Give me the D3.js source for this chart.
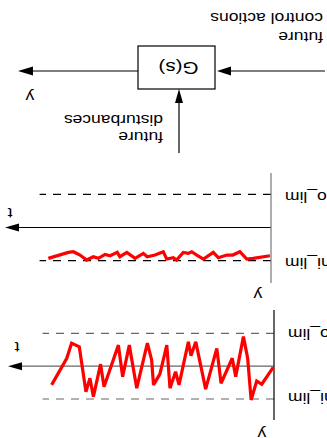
<!DOCTYPE html>
<html>
<head>
<meta charset="utf-8">
<script src="https://cdn.jsdelivr.net/npm/d3@7"></script>
<style>
  html, body { margin: 0; padding: 0; background: #fff; }
  svg { display: block; }
  text { font-family: "Liberation Sans", Arial, "DejaVu Sans", sans-serif; }
</style>
</head>
<body>
<script>
// ---------- data (upright orientation; the whole figure is shown rotated 180°) ----------
// top chart (wide swings between limits)
const topTime  = [0.3, 4.6, 6.5, 8.6, 9.9, 11.5, 14.4, 15.7, 19.9, 21.5, 25.7, 29.4, 31.2, 32.2, 35.7, 37.0, 39.1, 40.3, 42.9, 45.3, 46.0, 47.6, 51.6, 54.4, 56.9, 58.5, 63.9, 65.2, 67.9, 69.2, 70.7, 73.2, 76.1, 77.9, 83.6];
const topValue = [0.04, 0.55, 0.45, 1.03, -0.24, -0.90, 0.32, -0.24, 0.52, -0.54, 0.70, -0.74, -0.32, -0.74, 0.57, 0.17, 0.67, -0.64, 0.24, 0.57, -0.19, -0.70, 0.67, -0.64, 0.32, -0.64, 0.63, -0.06, 0.93, 0.37, 0.78, -0.59, -0.70, -0.24, 0.57];
// middle chart (hugging the upper limit)
const midTime  = [0.4, 6.7, 9.1, 11.7, 14.4, 16.6, 19.8, 21.7, 25.4, 27.9, 29.8, 31.1, 33.0, 35.5, 36.7, 39.2, 40.5, 43.6, 46.5, 48.0, 51.1, 54.2, 56.8, 57.8, 60.5, 62.4, 64.9, 66.8, 69.3, 71.8, 74.3, 76.2, 83.7];
const midValue = [0.85, 0.93, 0.95, 0.73, 0.83, 0.83, 0.91, 0.75, 0.95, 0.83, 0.73, 0.78, 0.75, 0.98, 0.91, 0.95, 0.73, 0.83, 0.88, 0.78, 0.93, 0.75, 0.88, 0.75, 0.85, 0.81, 0.93, 0.88, 0.98, 0.83, 0.73, 0.75, 0.93];
const limitValues = [1, -1];
const limitLabels = ["hi_lim", "lo_lim"];
const timeDomain = [0, 100];
const limitSpan = [0, 87];
const axisLabels = { t: "t", y: "y" };
const blockLabel = "G(s)";
const inputLabel = ["future", "control actions"];
const disturbanceLabel = ["future", "disturbances"];
const outputLabel = "y";

// ---------- drawing ----------
const W = 327, H = 438;
const FONT = '"Liberation Sans", Arial, "DejaVu Sans", sans-serif';
const svg = d3.select("body").append("svg").attr("width", W).attr("height", H);
const root = svg.append("g").attr("transform", `rotate(180 ${W / 2} ${H / 2})`);

function label(g, txt, x, y, anchor, size) {
  g.append("g").attr("transform", `translate(${x},${y}) scale(1.25,1)`)
    .append("text").attr("text-anchor", anchor)
    .attr("font-family", FONT)
    .style("font-size", size + "px").attr("fill", "#000").text(txt);
}
function arrowH(g, tipX, y, len, hw, dir) { // dir=+1 pointing right
  g.append("path").attr("d", `M${tipX},${y}L${tipX - dir * len},${y - hw}L${tipX - dir * len},${y + hw}Z`).attr("fill", "#000");
}

function drawChart(cfg) {
  const g = root.append("g");
  const x = d3.scaleLinear().domain(timeDomain).range(cfg.xRange);
  const y = d3.scaleLinear().domain([-1, 1]).range(cfg.yRange);
  // limits
  limitValues.forEach((v, i) => {
    g.append("line").attr("x1", x(limitSpan[0])).attr("x2", x(limitSpan[1]))
      .attr("y1", y(v)).attr("y2", y(v))
      .attr("stroke", cfg.dashColor).attr("stroke-width", 1.2).attr("stroke-dasharray", "8,7");
    label(g, limitLabels[i], cfg.limLabelX, cfg.limLabelY[i], "end", 14);
  });
  // time axis
  g.append("line").attr("x1", x(0)).attr("x2", x(100) - 12).attr("y1", y(0)).attr("y2", y(0))
    .attr("stroke", cfg.hAxisColor).attr("stroke-width", 1.2);
  arrowH(g, x(100), y(0), 14, 4, 1);
  // value axis
  g.append("line").attr("x1", x(0)).attr("x2", x(0)).attr("y1", cfg.vAxis[0]).attr("y2", cfg.vAxis[1])
    .attr("stroke", cfg.vAxisColor).attr("stroke-width", 1.2);
  // series
  const pts = cfg.times.map((t, i) => [t, cfg.values[i]]);
  g.append("path").datum(pts)
    .attr("d", d3.line().x(d => x(d[0])).y(d => y(d[1])))
    .attr("fill", "none").attr("stroke", "#ff0000").attr("stroke-width", 3.2)
    .attr("stroke-linejoin", "miter").attr("stroke-miterlimit", 3);
  label(g, axisLabels.t, cfg.tLabel[0], cfg.tLabel[1], "middle", 14);
  label(g, axisLabels.y, cfg.yLabel[0], cfg.yLabel[1], "middle", 14);
}

drawChart({
  xRange: [53, 319], yRange: [104.7, 39], vAxis: [18, 128],
  times: topTime, values: topValue,
  dashColor: "#666", hAxisColor: "#666", vAxisColor: "#000",
  limLabelX: 39, limLabelY: [45, 109.5], tLabel: [310, 96], yLabel: [65, 9.5]
});
drawChart({
  xRange: [56, 322], yRange: [243.7, 177.3], vAxis: [155, 265],
  times: midTime, values: midValue,
  dashColor: "#000", hAxisColor: "#000", vAxisColor: "#777",
  limLabelX: 42, limLabelY: [179.7, 246.3], tLabel: [317, 230], yLabel: [69, 148]
});

// ---------- block diagram ----------
const bd = root.append("g");
const box = { x: 112, y: 349, w: 77, h: 43 };
bd.append("rect").attr("x", box.x).attr("y", box.y).attr("width", box.w).attr("height", box.h)
  .attr("fill", "#fff").attr("stroke", "#000").attr("stroke-width", 1.2);
label(bd, blockLabel, 148.5, 376.3, "middle", 16.5);
// input
bd.append("line").attr("x1", 2).attr("x2", box.x - 10).attr("y1", 367).attr("y2", 367).attr("stroke", "#000").attr("stroke-width", 1.2);
arrowH(bd, box.x - 2, 367, 14, 4.5, 1);
// output
bd.append("line").attr("x1", box.x + box.w).attr("x2", 300).attr("y1", 367).attr("y2", 367).attr("stroke", "#000").attr("stroke-width", 1.2);
arrowH(bd, 309, 367, 15, 4.5, 1);
label(bd, outputLabel, 297, 346, "middle", 14);
// disturbance
bd.append("line").attr("x1", 148).attr("x2", 148).attr("y1", 285).attr("y2", 340).attr("stroke", "#000").attr("stroke-width", 1.2);
bd.append("path").attr("d", `M148,${box.y}L${148 - 4},${box.y - 14}L${148 + 4},${box.y - 14}Z`).attr("fill", "#000");
label(bd, disturbanceLabel[0], 164, 306, "start", 14);
label(bd, disturbanceLabel[1], 164, 323, "start", 14);
label(bd, inputLabel[0], 4, 406, "start", 14);
label(bd, inputLabel[1], 4, 425.5, "start", 14);
</script>
</body>
</html>
